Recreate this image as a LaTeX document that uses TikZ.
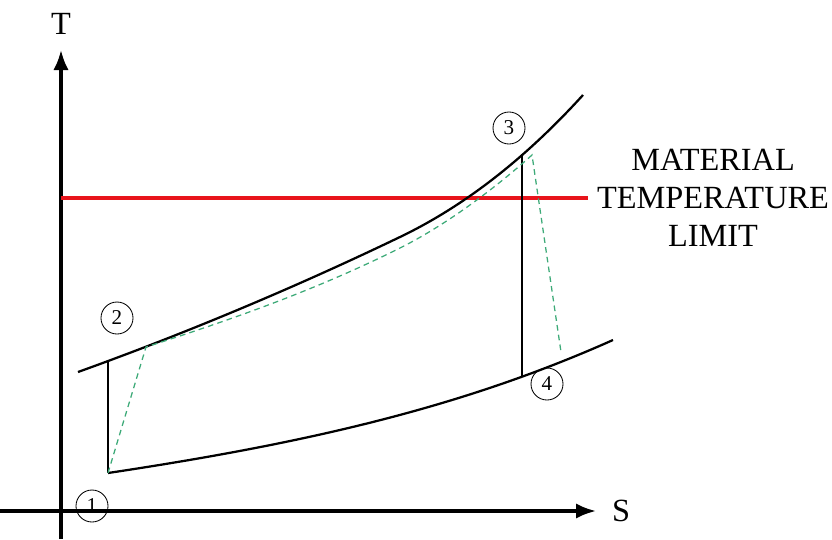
\documentclass[tikz,border=0pt]{standalone}
\usepackage{fontspec}
\setmainfont{Liberation Serif}
\usetikzlibrary{arrows.meta}
\definecolor{limitred}{HTML}{E8141B}
\definecolor{realgreen}{HTML}{3DAA78}

\begin{document}
\begin{tikzpicture}[x=0.025cm, y=-0.025cm,
  axis/.style={line width=2.2pt, -{Latex[length=0.5cm, width=0.38cm]}},
  isobar/.style={line width=1.6pt},
  proc/.style={line width=1.1pt},
  real/.style={draw=realgreen, line width=0.9pt, dash pattern=on 4pt off 3pt},
  state/.style={circle, draw, line width=0.6pt, minimum size=0.8cm, inner sep=0pt, font=\fontsize{15}{17}\selectfont},
  lab/.style={font=\fontsize{23}{27}\selectfont, align=center},
]
\useasboundingbox (0,0) rectangle (832,539);
% state points
\coordinate (p1) at (108,473);
\coordinate (p2) at (108,361);
\coordinate (p2r) at (146,347);
\coordinate (p3) at (522,154);
\coordinate (p3r) at (532,155);
\coordinate (p4) at (522,377);
\coordinate (p4r) at (561,352);
% axes
\coordinate (origx) at (0,511);
\coordinate (origy) at (61,539);
\node[lab] (S) at (621,511) {S};
\node[lab] (T) at (61,24) {T};
\draw[axis] (origx) -- (596,511);
\draw[axis] (origy) -- (61,50);
% temperature limit
\node[lab] (limit) at (713,198) {MATERIAL\\TEMPERATURE\\LIMIT};
\draw[limitred, line width=3.4pt] (61,198) -- (588,198);
% isobars
\draw[isobar] (78,372) .. controls (185,333.5) and (293,288.4) .. (400,237)
  .. controls (461,207.7) and (522,162.1) .. (583,95);
\draw[isobar] (p1) .. controls (308,443) and (463,407) .. (613,340);
% ideal cycle
\draw[proc] (p1) -- (p2);
\draw[proc] (p3) -- (p4);
% real cycle
\draw[real] (p1) -- (p2r) .. controls (230,320) and (315,290.5) .. (400,248)
  .. controls (444,226) and (492,191) .. (p3r) -- (p4r);
% state labels
\node[state] (s1) at (92,506) {1};
\node[state] (s2) at (117,318) {2};
\node[state] (s3) at (509,128) {3};
\node[state] (s4) at (547,384) {4};
\end{tikzpicture}
\end{document}
